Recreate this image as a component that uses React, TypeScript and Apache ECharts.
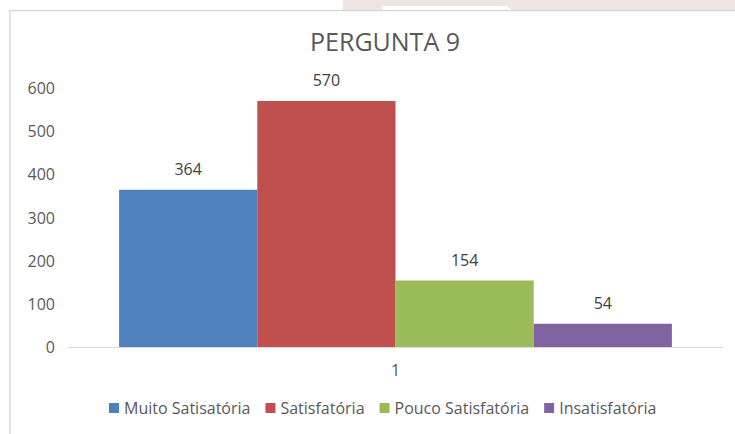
import React, { useEffect, useRef } from "react";
import * as echarts from "echarts";

const categories = ["1"];
const seriesNames = ["Muito Satisatória", "Satisfatória", "Pouco Satisfatória", "Insatisfatória"];
const seriesValues = [[364], [570], [154], [54]];
const seriesColors = ["#4f81bd", "#c0504d", "#9bbb59", "#8064a2"];
const yTicks = { min: 0, max: 600, interval: 100 };

const FONT = "'Open Sans', sans-serif";

export default function App() {
  const ref = useRef<HTMLDivElement>(null);
  useEffect(() => {
    document.body.style.margin = "0";
    const chart = echarts.init(ref.current!, null, { renderer: "svg" });
    chart.setOption({
      animation: false,
      backgroundColor: "#ffffff",
      textStyle: { fontFamily: FONT },
      title: {
        text: "PERGUNTA 9",
        left: 380,
        textAlign: "center",
        top: 23,
        textStyle: { fontFamily: FONT, fontSize: 25, fontWeight: "normal", color: "#595959" },
      },
      graphic: [
        { type: "rect", shape: { x: 343, y: 0, width: 392, height: 10 }, style: { fill: "#efe6e3" }, z: -1 },
        { type: "polygon", shape: { points: [[382, 6], [507, 6], [512, 10], [382, 10]] }, style: { fill: "#ffffff" }, z: 0 },
        { type: "polyline", shape: { points: [[10, 434], [10, 10.5], [735, 10.5]] }, style: { stroke: "#d9d9d9", lineWidth: 1.5, fill: "none" } },
      ],
      legend: {
        bottom: 13,
        left: 104,
        itemWidth: 10,
        itemHeight: 10,
        itemGap: 15,
        icon: "rect",
        textStyle: { fontFamily: FONT, fontSize: 16, color: "#595959" },
        data: seriesNames,
      },
      grid: { left: 68, right: 12, top: 88, bottom: 87 },
      xAxis: {
        type: "category",
        data: categories,
        axisLine: { lineStyle: { color: "#d9d9d9", width: 1 } },
        axisTick: { show: false },
        axisLabel: { color: "#595959", fontSize: 16, fontFamily: FONT, margin: 15 },
      },
      yAxis: {
        type: "value",
        min: yTicks.min,
        max: yTicks.max,
        interval: yTicks.interval,
        splitLine: { show: false },
        axisLine: { show: false },
        axisTick: { show: false },
        axisLabel: { color: "#595959", fontSize: 16, fontFamily: FONT, margin: 13 },
      },
      series: seriesNames.map((name, i) => ({
        name,
        type: "bar",
        data: seriesValues[i],
        barGap: "0%",
        barCategoryGap: "15.6%",
        itemStyle: { color: seriesColors[i] },
        label: {
          show: true,
          position: "top",
          distance: 13,
          color: "#404040",
          fontSize: 16,
          fontFamily: FONT,
        },
      })),
    });
    return () => chart.dispose();
  }, []);
  return <div ref={ref} style={{ position: "fixed", left: 0, top: 0, width: 735, height: 434 }} />;
}
